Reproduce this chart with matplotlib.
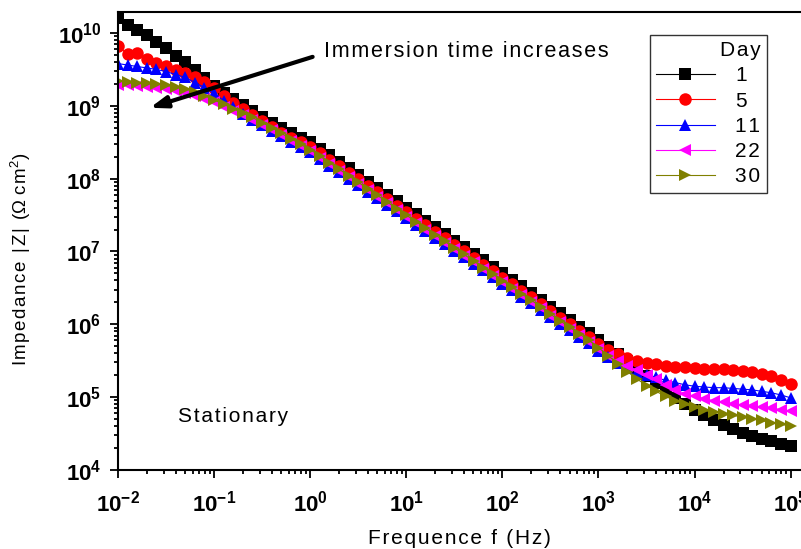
import numpy as np
import matplotlib
matplotlib.use("Agg")
import matplotlib.pyplot as plt
from matplotlib.ticker import LogLocator, FuncFormatter, NullFormatter

plt.rcParams['font.family'] = ['Liberation Sans', 'DejaVu Sans']
plt.rcParams['mathtext.fontset'] = 'custom'
plt.rcParams['mathtext.rm'] = 'Liberation Sans'
plt.rcParams['mathtext.bf'] = 'Liberation Sans:bold'

# frequency sweep (Hz), 10 points per decade
freq = [0.01, 0.0126, 0.0158, 0.02, 0.0251, 0.0316, 0.0398, 0.0501, 0.0631, 0.0794,
        0.1, 0.126, 0.158, 0.2, 0.251, 0.316, 0.398, 0.501, 0.631, 0.794,
        1.0, 1.26, 1.58, 2.0, 2.51, 3.16, 3.98, 5.01, 6.31, 7.94,
        10.0, 12.6, 15.8, 20.0, 25.1, 31.6, 39.8, 50.1, 63.1, 79.4,
        100.0, 126.0, 158.0, 200.0, 251.0, 316.0, 398.0, 501.0, 631.0, 794.0,
        1000.0, 1260.0, 1580.0, 2000.0, 2510.0, 3160.0, 3980.0, 5010.0, 6310.0, 7940.0,
        10000.0, 12600.0, 15800.0, 20000.0, 25100.0, 31600.0, 39800.0, 50100.0, 63100.0, 79400.0,
        100000.0]

# log10 |Z| (ohm cm2)
logz_day1 = [10.20, 10.11, 10.04, 9.97, 9.88, 9.79, 9.69, 9.60, 9.49, 9.38,
             9.27, 9.18, 9.10, 9.01, 8.93, 8.85, 8.77, 8.69, 8.62, 8.56,
             8.50, 8.41, 8.32, 8.23, 8.14, 8.05, 7.96, 7.87, 7.78, 7.69,
             7.60, 7.51, 7.42, 7.33, 7.24, 7.15, 7.06, 6.97, 6.88, 6.79,
             6.70, 6.61, 6.52, 6.43, 6.34, 6.24, 6.15, 6.06, 5.97, 5.88,
             5.79, 5.69, 5.59, 5.49, 5.39, 5.29, 5.19, 5.09, 4.99, 4.90,
             4.82, 4.75, 4.68, 4.62, 4.56, 4.51, 4.47, 4.43, 4.40, 4.36,
             4.33]
logz_day5 = [9.82, 9.71, 9.72, 9.64, 9.59, 9.54, 9.49, 9.45, 9.39, 9.33,
             9.24, 9.14, 9.04, 8.95, 8.87, 8.79, 8.71, 8.63, 8.56, 8.50,
             8.44, 8.35, 8.26, 8.17, 8.08, 7.99, 7.90, 7.81, 7.72, 7.63,
             7.54, 7.45, 7.36, 7.27, 7.18, 7.09, 7.00, 6.91, 6.82, 6.73,
             6.64, 6.55, 6.46, 6.37, 6.28, 6.18, 6.09, 6.00, 5.91, 5.82,
             5.73, 5.65, 5.59, 5.54, 5.50, 5.47, 5.45, 5.43, 5.42, 5.41,
             5.40, 5.39, 5.38, 5.38, 5.37, 5.36, 5.34, 5.32, 5.29, 5.24,
             5.18]
logz_day11 = [9.58, 9.56, 9.54, 9.52, 9.50, 9.47, 9.43, 9.39, 9.32, 9.25,
              9.17, 9.07, 8.98, 8.89, 8.81, 8.73, 8.66, 8.58, 8.51, 8.43,
              8.36, 8.27, 8.18, 8.09, 8.00, 7.91, 7.82, 7.73, 7.64, 7.55,
              7.46, 7.37, 7.28, 7.19, 7.10, 7.01, 6.92, 6.83, 6.74, 6.65,
              6.56, 6.47, 6.38, 6.29, 6.20, 6.10, 6.01, 5.92, 5.83, 5.74,
              5.64, 5.55, 5.47, 5.40, 5.35, 5.31, 5.27, 5.23, 5.20, 5.17,
              5.15, 5.14, 5.13, 5.13, 5.12, 5.11, 5.10, 5.08, 5.06, 5.03,
              4.99]
logz_day22 = [9.28, 9.28, 9.27, 9.26, 9.25, 9.23, 9.21, 9.18, 9.14, 9.10,
              9.05, 8.99, 8.93, 8.87, 8.81, 8.74, 8.67, 8.60, 8.52, 8.45,
              8.38, 8.29, 8.20, 8.11, 8.02, 7.93, 7.84, 7.75, 7.66, 7.57,
              7.48, 7.39, 7.30, 7.21, 7.12, 7.03, 6.94, 6.85, 6.76, 6.67,
              6.58, 6.49, 6.40, 6.31, 6.22, 6.12, 6.03, 5.94, 5.85, 5.76,
              5.66, 5.57, 5.49, 5.43, 5.37, 5.31, 5.25, 5.17, 5.10, 5.05,
              5.01, 4.98, 4.95, 4.93, 4.91, 4.89, 4.88, 4.86, 4.85, 4.83,
              4.81]
logz_day30 = [9.34, 9.33, 9.32, 9.31, 9.30, 9.28, 9.26, 9.23, 9.19, 9.14,
              9.08, 9.02, 8.96, 8.90, 8.84, 8.77, 8.70, 8.62, 8.55, 8.47,
              8.40, 8.31, 8.22, 8.13, 8.04, 7.95, 7.86, 7.77, 7.68, 7.59,
              7.50, 7.41, 7.32, 7.23, 7.14, 7.05, 6.96, 6.87, 6.78, 6.69,
              6.60, 6.51, 6.42, 6.33, 6.24, 6.14, 6.05, 5.96, 5.87, 5.78,
              5.68, 5.57, 5.46, 5.35, 5.25, 5.16, 5.08, 5.01, 4.95, 4.90,
              4.86, 4.82, 4.79, 4.77, 4.75, 4.73, 4.70, 4.68, 4.65, 4.63,
              4.60]

days = ['1', '5', '11', '22', '30']
series = [logz_day1, logz_day5, logz_day11, logz_day22, logz_day30]
colors = ['black', '#FF0000', '#0000FF', '#FF00FF', '#808000']
markers = ['s', 'o', '^', '<', '>']


def spaced(s):
    # wide letter spacing like the original plotting software
    return '\u200a'.join(s)


fig = plt.figure(figsize=(8.01, 5.49), dpi=100)
ax = fig.add_axes([0.1473, 0.1439, 0.8527, 0.8342])

for lz, lab, c, m in zip(series, days, colors, markers):
    ax.plot(freq, np.power(10.0, lz), color=c, marker=m, markersize=9,
            markeredgewidth=0, linewidth=0.8, label=spaced(lab))

ax.set_xscale('log')
ax.set_yscale('log')
ax.set_xlim(1e-2, 1.28e5)
ax.set_ylim(1e4, 1.94e10)

fmt = FuncFormatter(lambda v, p: r'$\mathbf{10^{%d}}$' % int(round(np.log10(v))))
ax.xaxis.set_major_locator(LogLocator(base=10, numticks=20))
ax.yaxis.set_major_locator(LogLocator(base=10, numticks=20))
ax.xaxis.set_minor_locator(LogLocator(base=10, subs=np.arange(2, 10), numticks=20))
ax.yaxis.set_minor_locator(LogLocator(base=10, subs=np.arange(2, 10), numticks=20))
ax.xaxis.set_major_formatter(fmt)
ax.yaxis.set_major_formatter(fmt)
ax.xaxis.set_minor_formatter(NullFormatter())
ax.yaxis.set_minor_formatter(NullFormatter())

ax.tick_params(which='both', direction='out', top=False, right=False, width=1.3)
ax.tick_params(which='major', length=6, labelsize=16)
ax.tick_params(axis='x', which='major', pad=9)
ax.tick_params(axis='y', which='major', pad=6)
ax.tick_params(which='minor', length=3)
for s in ['left', 'bottom', 'top']:
    ax.spines[s].set_linewidth(1.5)
ax.spines['right'].set_visible(False)

ax.set_xlabel(spaced('Frequence f (Hz)'), fontsize=15, labelpad=9)
ax.set_ylabel(spaced('Impedance |Z| (') + r'$\Omega$ ' + spaced('cm') + r'$^2$' + ')',
              fontsize=13.5)
ax.yaxis.set_label_coords(-0.124, 0.46)

ax.annotate('', xy=(0.0215, 9.4e8), xytext=(1.06, 4.7e9),
            arrowprops=dict(arrowstyle='-|>,head_length=1.0,head_width=0.35',
                            color='black', lw=3, shrinkA=0, shrinkB=0))
ax.text(1.4, 5.5e9, spaced('Immersion time increases'), fontsize=15.5, va='center', ha='left')
ax.text(0.042, 5.4e4, spaced('Stationary'), fontsize=15, va='center', ha='left')

leg = ax.legend(title=spaced('Day'), loc='upper right', bbox_to_anchor=(0.95, 0.95),
                borderaxespad=0, fontsize=15, title_fontsize=15, frameon=True,
                fancybox=False, edgecolor='black', handlelength=2.8, labelspacing=0.3,
                borderpad=0.3, handletextpad=1.0, alignment='right')
leg.get_frame().set_linewidth(1.0)

fig.savefig('out.png', dpi=100)
